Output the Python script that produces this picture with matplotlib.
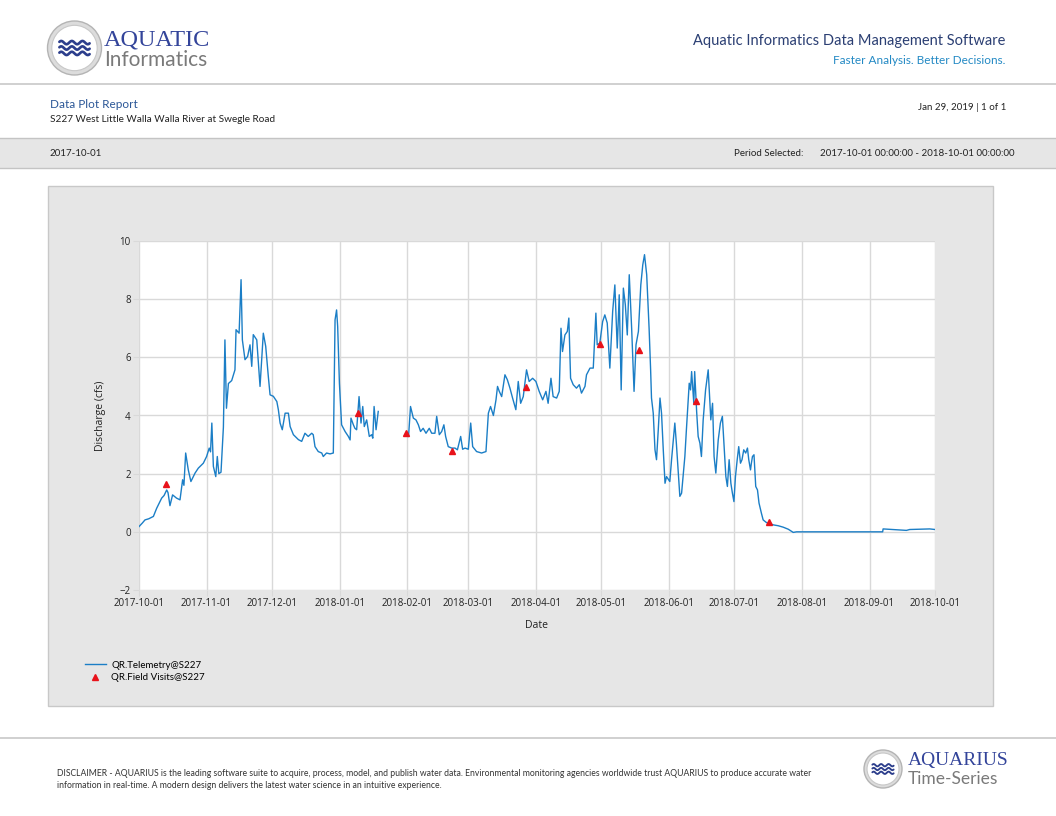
import numpy as np
import pandas as pd
import matplotlib
matplotlib.use("Agg")
import matplotlib.pyplot as plt
import matplotlib.dates as mdates
from matplotlib.patches import Rectangle, Circle

start = pd.Timestamp("2017-10-01")
end = pd.Timestamp("2018-10-01")

# QR.Telemetry@S227: days after 2017-10-01 and discharge (cfs)
tel_days = [
    0.0, 1.5, 2.75, 4.5, 6.6, 8.1, 10.4, 11.5, 12.7, 13.3, 14.2, 15.4, 17.2, 18.8,
    20.0, 20.6, 21.4, 22.6, 23.8, 25.7, 27.2, 28.7, 29.5, 31.0, 32.2, 32.8, 33.4,
    34.1, 35.2, 35.9, 36.6, 37.6, 38.7, 39.4, 40.1, 41.0, 42.5, 44.0, 44.5, 45.9,
    46.8, 47.4, 48.6, 49.8, 50.9, 51.7, 52.4, 54.0, 55.5, 57.0, 58.1, 59.3, 60.1,
    61.6, 63.2, 63.9, 64.7, 65.7, 67.0, 68.5, 69.3, 70.8, 73.1, 74.6, 76.1, 77.6,
    79.2, 79.9, 80.7, 82.2, 83.8, 84.5, 86.0, 87.6, 89.1, 89.9, 90.6, 91.1, 91.9,
    92.9, 94.5, 96.0, 96.8, 97.2, 98.3, 99.0, 99.8, 100.9, 101.8, 102.6, 103.3,
    104.4, 105.6, 106.7, 107.2, 107.8, 108.7, 109.7, 116.0,
    123.6, 124.5, 125.8, 127.0, 128.1, 129.1, 130.3, 131.6, 133.1, 134.2, 135.7,
    136.5, 137.7, 138.8, 139.8, 140.6, 141.8, 143.4, 144.9, 146.0, 147.5, 148.4,
    149.5, 151.0, 152.1, 153.0, 154.8, 157.1, 159.1, 160.2, 161.2, 162.5, 163.7,
    164.4, 165.2, 166.3, 167.8, 168.9, 170.1, 171.3, 172.8, 173.9, 175.0, 176.2,
    177.7, 178.9, 180.5, 182.0, 183.5, 185.1, 186.6, 187.6, 188.9, 189.9, 191.5,
    192.7, 193.5, 194.2, 195.3, 196.4, 197.1, 197.9, 199.1, 200.6, 201.9, 202.9,
    204.5, 205.2, 206.8, 208.3, 209.5, 210.1, 211.3, 212.6, 213.6, 214.7, 215.9,
    217.2, 218.2, 219.3, 220.2, 221.1, 222.1, 223.0, 223.9, 224.8, 225.9, 227.0,
    227.9, 229.0, 230.1, 231.0, 231.8, 232.8, 233.9, 234.6, 235.0, 235.8, 236.6,
    237.3, 238.1, 238.9, 239.6, 240.4, 241.2, 241.9, 243.4, 244.2, 245.7, 246.4,
    247.2, 248.0, 248.8, 249.5, 250.3, 251.0, 252.3, 252.9, 253.4, 254.4, 254.8,
    255.7, 256.4, 257.2, 257.9, 258.7, 259.8, 261.0, 261.8, 262.2, 263.0, 263.7,
    264.5, 265.6, 266.6, 267.5, 268.2, 269.1, 269.8, 270.6, 271.4, 272.1, 272.8,
    273.5, 274.3, 275.0, 275.8, 276.5, 277.3, 278.2, 279.0, 279.6, 280.4, 280.8,
    281.3, 282.0, 282.8, 283.6, 284.3, 285.4, 286.2, 287.7, 290.8, 293.1, 295.4,
    297.7, 300.0, 301.5, 341.0, 341.2, 347.3, 351.9, 353.4, 362.6, 365.0,
]
tel_cfs = [
    0.18, 0.30, 0.41, 0.45, 0.53, 0.81, 1.16, 1.25, 1.44, 1.35, 0.90, 1.27, 1.16, 1.10,
    1.79, 1.60, 2.71, 2.13, 1.73, 2.02, 2.19, 2.30, 2.36, 2.59, 2.88, 2.75, 3.74,
    2.25, 1.90, 2.59, 2.00, 2.05, 3.60, 6.60, 4.25, 5.10, 5.20, 5.57, 6.95, 6.83,
    8.67, 6.60, 5.92, 6.03, 6.43, 5.69, 6.78, 6.60, 5.00, 6.83, 6.38, 5.34, 4.71,
    4.66, 4.48, 4.20, 3.74, 3.51, 4.08, 4.08, 3.62, 3.34, 3.17, 3.11, 3.39, 3.28,
    3.39, 3.34, 2.93, 2.76, 2.71, 2.59, 2.71, 2.68, 2.71, 7.29, 7.63, 7.06, 5.11,
    3.68, 3.45, 3.28, 3.16, 3.91, 3.68, 3.56, 3.51, 4.65, 3.74, 4.31, 3.62,
    3.85, 3.28, 3.34, 3.22, 4.31, 3.51, 4.14, np.nan,
    3.28, 4.31, 3.91, 3.85, 3.68, 3.45, 3.56, 3.39, 3.56, 3.39, 3.39,
    3.97, 3.34, 3.45, 3.68, 3.28, 2.93, 2.88, 2.88, 2.82, 3.28, 2.84,
    2.88, 2.84, 3.74, 2.93, 2.76, 2.71, 2.76, 4.08, 4.31, 4.00, 4.54,
    5.00, 4.83, 4.65, 5.40, 5.23, 4.94, 4.60, 4.20, 5.17, 4.42, 4.65,
    5.57, 5.17, 5.28, 5.17, 4.83, 4.54, 4.83, 4.42, 5.28, 4.65, 4.60,
    4.83, 7.00, 6.20, 6.77, 6.89, 7.35, 5.28, 5.06, 4.94, 5.06, 4.77,
    5.00, 5.40, 5.63, 5.63, 7.52, 6.43, 6.49, 7.23, 7.46, 7.18, 5.63,
    7.58, 8.49, 6.32, 8.15, 4.88, 8.38, 7.81, 6.77, 8.84, 7.00, 4.83,
    6.43, 6.89, 8.49, 9.18, 9.53, 8.84, 7.00, 5.57, 4.60, 4.08, 2.82,
    2.48, 3.50, 4.60, 4.08, 2.82, 1.67, 1.90, 1.73, 2.48, 3.74, 3.05,
    2.13, 1.22, 1.33, 1.90, 2.59, 3.50, 5.11, 4.88, 5.51, 4.42, 5.51,
    4.14, 3.28, 3.05, 2.59, 3.85, 4.88, 5.57, 4.42, 3.85, 4.42, 2.59,
    2.02, 3.16, 3.74, 3.97, 3.05, 1.90, 1.56, 2.48, 1.67, 1.33, 1.04,
    1.90, 2.48, 2.93, 2.36, 2.48, 2.82, 2.71, 2.88, 2.48, 2.13, 2.36,
    2.59, 2.65, 1.56, 1.44, 0.99, 0.64, 0.41, 0.32, 0.24, 0.21, 0.16,
    0.09, -0.02, 0.00, 0.00, 0.10, 0.07, 0.05, 0.08, 0.10, 0.08,
]

# QR.Field Visits@S227
visit_dates = [
    "2017-10-13 10:00", "2018-01-09 10:00", "2018-01-31 10:00",
    "2018-02-21 12:00", "2018-03-27 10:00", "2018-04-30 10:00",
    "2018-05-18 07:00", "2018-06-13 10:00", "2018-07-16 21:00",
]
visit_cfs = [1.63, 4.10, 3.40, 2.78, 4.97, 6.45, 6.24, 4.49, 0.33]

tel_time = start + pd.to_timedelta(tel_days, unit="D")
visit_time = pd.to_datetime(visit_dates)

head_font = ["Liberation Sans Narrow", "Lato", "DejaVu Sans"]
tick_font = ["Open Sans", "DejaVu Sans"]
serif_font = ["Liberation Serif", "DejaVu Serif"]

fig = plt.figure(figsize=(10.56, 8.16), dpi=100)
fig.patch.set_facecolor("white")

# page decoration in pixel coordinates
bg = fig.add_axes([0, 0, 1, 1], zorder=0)
bg.set_xlim(0, 1056)
bg.set_ylim(816, 0)
bg.axis("off")

bg.plot([0, 1056], [84, 84], color="#c8c8c8", lw=1.2)
bg.add_patch(Rectangle((0, 138), 1056, 30, fc="#e6e6e6", ec="none"))
bg.plot([0, 1056], [138, 138], color="#c4c4c4", lw=1.0)
bg.plot([0, 1056], [168, 168], color="#c4c4c4", lw=1.0)
bg.add_patch(Rectangle((48, 186), 945, 520, fc="#e6e6e6", ec="#c8c8c8", lw=1.0))
bg.plot([0, 1056], [738, 738], color="#c8c8c8", lw=1.2)


def logo(cx, cy, r):
    bg.add_patch(Circle((cx, cy), r, fc="#dcdcdc", ec="#b4b4b4", lw=1.0))
    bg.add_patch(Circle((cx, cy), r * 0.84, fc="white", ec="#c8c8c8", lw=0.8))
    t = np.linspace(-0.56 * r, 0.56 * r, 80)
    for k in (-0.2, 0.0, 0.2):
        bg.plot(cx + t, cy + k * r + 0.06 * r * np.sin(t / r * 16), color="#2c3e8c",
                lw=r / 14, solid_capstyle="round")


logo(74.5, 48, 27)
bg.text(104, 40, "AQUATIC", fontsize=17.5, color="#33449a", family=serif_font, va="center")
bg.text(104, 60, "Informatics", fontsize=15, color="#7a7a7a", family=head_font, va="center")

bg.text(1005, 41, "Aquatic Informatics Data Management Software", fontsize=10.5,
        color="#2b3f73", family=head_font, ha="right", va="center")
bg.text(1005, 60, "Faster Analysis. Better Decisions.", fontsize=8.5,
        color="#2389c4", family=head_font, ha="right", va="center")

bg.text(50, 105, "Data Plot Report", fontsize=8.5, color="#2b5797", family=head_font, va="center")
bg.text(50, 120, "S227 West Little Walla Walla River at Swegle Road", fontsize=7.2,
        color="#222222", family=head_font, va="center")
bg.text(1006, 107, "Jan 29, 2019 | 1 of 1", fontsize=7, color="#222222",
        family=head_font, ha="right", va="center")

bg.text(50, 153, "2017-10-01", fontsize=7, color="#222222", family=head_font, va="center")
bg.text(803, 153, "Period Selected:", fontsize=7, color="#222222", family=head_font,
        ha="right", va="center")
bg.text(1015, 153, "2017-10-01 00:00:00 - 2018-10-01 00:00:00", fontsize=7,
        color="#222222", family=head_font, ha="right", va="center")

bg.text(57, 774, "DISCLAIMER - AQUARIUS is the leading software suite to acquire, process, model, "
        "and publish water data. Environmental monitoring agencies worldwide trust AQUARIUS "
        "to produce accurate water", fontsize=6.2, color="#333333", family=head_font, va="center")
bg.text(57, 786, "information in real-time. A modern design delivers the latest water science "
        "in an intuitive experience.", fontsize=6.2, color="#333333", family=head_font, va="center")

logo(883, 769, 19)
bg.text(908, 761, "AQUARIUS", fontsize=14, color="#33449a", family=serif_font, va="center")
bg.text(908, 779, "Time-Series", fontsize=12.5, color="#7a7a7a", family=head_font, va="center")

# chart
ax = fig.add_axes([139 / 1056, 1 - 590 / 816, 796 / 1056, 349 / 816], zorder=1)
ax.set_facecolor("white")
ax.plot(tel_time, tel_cfs, color="#1b7ec6", lw=1.0, label="QR.Telemetry@S227", zorder=3)
ax.plot(visit_time, visit_cfs, ls="none", marker="^", ms=5, color="#e8121a",
        label="QR.Field Visits@S227", zorder=4)

ax.set_xlim(start, end)
ax.set_ylim(-2, 10)
ax.set_yticks(np.arange(-2, 11, 2))
ax.xaxis.set_major_locator(mdates.MonthLocator())
ax.xaxis.set_major_formatter(mdates.DateFormatter("%Y-%m-%d"))
ax.grid(True, color="#d9d9d9", lw=1.0)
ax.set_axisbelow(True)
for s in ax.spines.values():
    s.set_visible(False)
ax.tick_params(length=4, color="#d9d9d9", labelsize=7, labelcolor="#222222", pad=2)
for lab in ax.get_xticklabels() + ax.get_yticklabels():
    lab.set_family(tick_font)
ax.set_xlabel("Date", fontsize=7.5, family=tick_font, color="#222222", labelpad=8)
ax.set_ylabel("Discharge (cfs)", fontsize=7.5, family=tick_font, color="#222222", labelpad=10)

ax.legend(loc="upper left", bbox_to_anchor=(76 / 1056, 1 - 652 / 816),
          bbox_transform=fig.transFigure, frameon=False, numpoints=1,
          handlelength=2.2, handletextpad=0.5, labelspacing=0.35,
          prop={"family": head_font, "size": 7})

fig.savefig("out.png", dpi=100)
